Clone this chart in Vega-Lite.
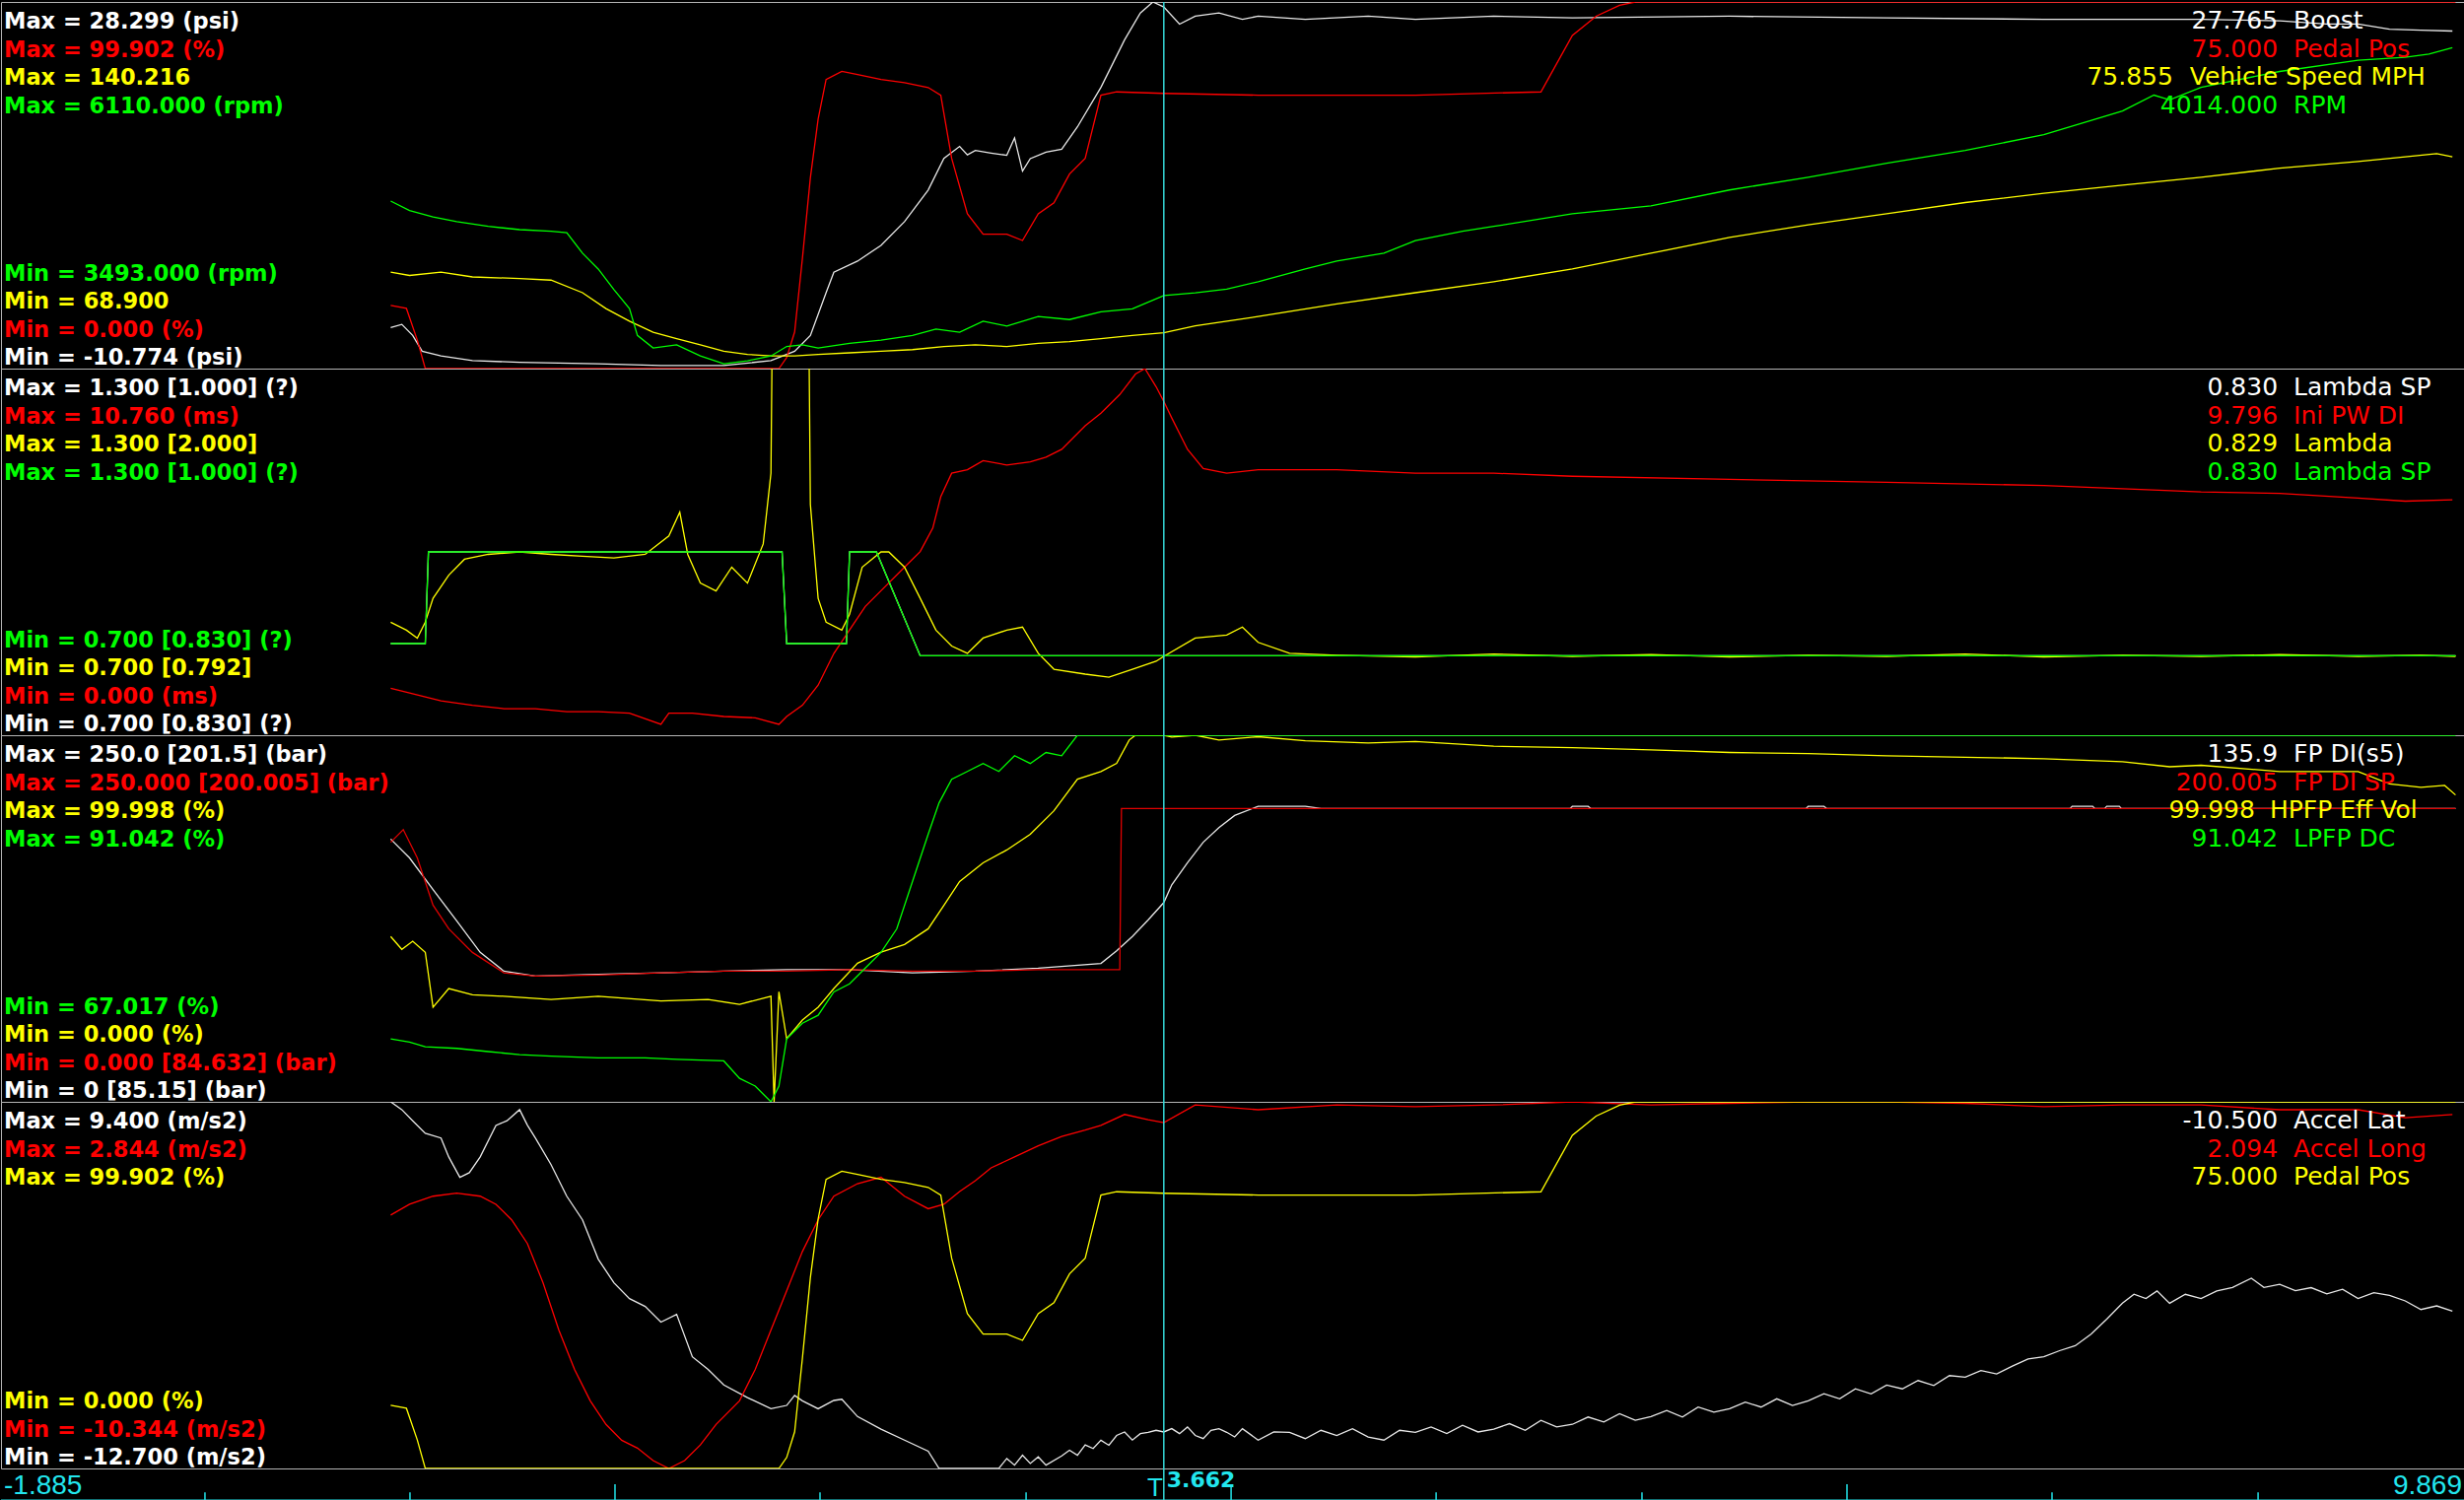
{
"$schema": "https://vega.github.io/schema/vega-lite/v6.json",
"background": "#000000",
"padding": 0,
"spacing": 0,
"bounds": "flush",
"config": {"view": {"stroke": "#b4b4b4", "strokeWidth": 1}, "concat": {"spacing": 0}},
"datasets": {
"cursor": [{"t": 3.662}],
"boost": [{"t":-0.026,"v":-6.39},{"t":0.027,"v":-6.06},{"t":0.079,"v":-7.24},{"t":0.124,"v":-8.92},{"t":0.214,"v":-9.43},{"t":0.364,"v":-9.93},{"t":0.589,"v":-10.1},{"t":0.964,"v":-10.27},{"t":1.263,"v":-10.44},{"t":1.563,"v":-10.44},{"t":1.788,"v":-9.93},{"t":1.901,"v":-8.92},{"t":1.976,"v":-7.24},{"t":2.051,"v":-2.69},{"t":2.088,"v":-0.5},{"t":2.201,"v":0.68},{"t":2.313,"v":2.36},{"t":2.425,"v":4.89},{"t":2.538,"v":8.26},{"t":2.613,"v":11.62},{"t":2.688,"v":12.9},{"t":2.725,"v":12.0},{"t":2.763,"v":12.47},{"t":2.838,"v":12.2},{"t":2.913,"v":11.96},{"t":2.95,"v":13.81},{"t":2.988,"v":10.28},{"t":3.025,"v":11.6},{"t":3.1,"v":12.3},{"t":3.175,"v":12.6},{"t":3.25,"v":14.99},{"t":3.362,"v":19.2},{"t":3.475,"v":24.27},{"t":3.55,"v":27.12},{"t":3.61,"v":28.299},{"t":3.662,"v":27.765},{"t":3.737,"v":25.94},{"t":3.812,"v":26.78},{"t":3.925,"v":27.12},{"t":4.037,"v":26.45},{"t":4.112,"v":26.78},{"t":4.337,"v":26.45},{"t":4.637,"v":26.78},{"t":4.862,"v":26.45},{"t":5.236,"v":26.78},{"t":5.611,"v":26.6},{"t":6.361,"v":26.78},{"t":7.11,"v":26.6},{"t":7.86,"v":26.45},{"t":8.61,"v":26.45},{"t":8.985,"v":26.28},{"t":9.21,"v":25.94},{"t":9.359,"v":25.94},{"t":9.509,"v":25.4},{"t":9.659,"v":25.3},{"t":9.809,"v":25.2}],
"pedal": [{"t":-0.026,"v":17.2},{"t":0.049,"v":16.4},{"t":0.101,"v":7.75},{"t":0.139,"v":0},{"t":1.826,"v":0},{"t":1.863,"v":3},{"t":1.901,"v":10},{"t":1.938,"v":30},{"t":1.976,"v":52},{"t":2.013,"v":68},{"t":2.051,"v":78.8},{"t":2.126,"v":81.0},{"t":2.201,"v":80.1},{"t":2.313,"v":78.8},{"t":2.425,"v":77.9},{"t":2.538,"v":76.6},{"t":2.598,"v":74.5},{"t":2.65,"v":57.3},{"t":2.725,"v":42.2},{"t":2.8,"v":36.6},{"t":2.913,"v":36.6},{"t":2.988,"v":34.9},{"t":3.063,"v":42.2},{"t":3.138,"v":45.2},{"t":3.212,"v":53.0},{"t":3.287,"v":57.3},{"t":3.362,"v":74.5},{"t":3.437,"v":75.4},{"t":3.662,"v":75.0},{"t":4.112,"v":74.5},{"t":4.862,"v":74.5},{"t":5.461,"v":75.4},{"t":5.536,"v":83.1},{"t":5.611,"v":90.8},{"t":5.724,"v":96.0},{"t":5.836,"v":99.0},{"t":5.911,"v":99.902},{"t":9.824,"v":99.902}],
"speed": [{"t":-0.026,"v":87.65},{"t":0.064,"v":87.02},{"t":0.214,"v":87.65},{"t":0.364,"v":86.73},{"t":0.589,"v":86.42},{"t":0.739,"v":86.11},{"t":0.889,"v":83.66},{"t":1.001,"v":80.58},{"t":1.113,"v":78.12},{"t":1.226,"v":75.97},{"t":1.338,"v":74.74},{"t":1.451,"v":73.51},{"t":1.563,"v":72.27},{"t":1.676,"v":71.67},{"t":1.788,"v":71.36},{"t":1.901,"v":71.36},{"t":2.013,"v":71.67},{"t":2.163,"v":71.97},{"t":2.313,"v":72.27},{"t":2.463,"v":72.59},{"t":2.613,"v":73.2},{"t":2.763,"v":73.51},{"t":2.913,"v":73.2},{"t":3.063,"v":73.82},{"t":3.212,"v":74.13},{"t":3.362,"v":74.74},{"t":3.512,"v":75.35},{"t":3.662,"v":75.855},{"t":3.812,"v":77.2},{"t":4.112,"v":79.04},{"t":4.487,"v":81.5},{"t":4.862,"v":83.66},{"t":5.236,"v":85.8},{"t":5.611,"v":88.27},{"t":5.986,"v":91.34},{"t":6.361,"v":94.41},{"t":6.736,"v":96.87},{"t":7.11,"v":99.02},{"t":7.485,"v":101.2},{"t":7.86,"v":103.0},{"t":8.235,"v":104.6},{"t":8.61,"v":106.1},{"t":8.985,"v":107.9},{"t":9.359,"v":109.2},{"t":9.584,"v":110.1},{"t":9.734,"v":110.7},{"t":9.809,"v":110.1}],
"rpm": [{"t":-0.026,"v":4689},{"t":0.064,"v":4621},{"t":0.176,"v":4576},{"t":0.289,"v":4542},{"t":0.439,"v":4508},{"t":0.589,"v":4485},{"t":0.739,"v":4474},{"t":0.814,"v":4463},{"t":0.889,"v":4317},{"t":0.964,"v":4204},{"t":1.039,"v":4057},{"t":1.113,"v":3922},{"t":1.151,"v":3730},{"t":1.226,"v":3640},{"t":1.338,"v":3662},{"t":1.451,"v":3583},{"t":1.563,"v":3527},{"t":1.676,"v":3549},{"t":1.788,"v":3583},{"t":1.863,"v":3651},{"t":1.938,"v":3662},{"t":2.013,"v":3640},{"t":2.163,"v":3674},{"t":2.313,"v":3696},{"t":2.463,"v":3730},{"t":2.575,"v":3775},{"t":2.688,"v":3752},{"t":2.8,"v":3831},{"t":2.913,"v":3797},{"t":3.063,"v":3865},{"t":3.212,"v":3843},{"t":3.362,"v":3899},{"t":3.512,"v":3920},{"t":3.662,"v":4014},{"t":3.812,"v":4034},{"t":3.962,"v":4060},{"t":4.112,"v":4113},{"t":4.337,"v":4204},{"t":4.487,"v":4260},{"t":4.712,"v":4317},{"t":4.862,"v":4407},{"t":5.087,"v":4474},{"t":5.236,"v":4508},{"t":5.611,"v":4598},{"t":5.986,"v":4655},{"t":6.361,"v":4768},{"t":6.736,"v":4859},{"t":7.11,"v":4959},{"t":7.485,"v":5050},{"t":7.86,"v":5163},{"t":8.235,"v":5332},{"t":8.385,"v":5445},{"t":8.46,"v":5411},{"t":8.61,"v":5501},{"t":8.985,"v":5614},{"t":9.359,"v":5694},{"t":9.584,"v":5715},{"t":9.697,"v":5738},{"t":9.809,"v":5783}],
"lsp": [{"t":-0.026,"v":0.85},{"t":0.139,"v":0.85},{"t":0.154,"v":1.0},{"t":1.841,"v":1.0},{"t":1.863,"v":0.85},{"t":2.148,"v":0.85},{"t":2.163,"v":1.0},{"t":2.291,"v":1.0},{"t":2.5,"v":0.83},{"t":9.824,"v":0.83}],
"lambda": [{"t":-0.026,"v":0.885},{"t":0.049,"v":0.872},{"t":0.101,"v":0.859},{"t":0.139,"v":0.885},{"t":0.176,"v":0.924},{"t":0.251,"v":0.962},{"t":0.326,"v":0.988},{"t":0.439,"v":0.996},{"t":0.589,"v":1.0},{"t":0.739,"v":0.996},{"t":0.889,"v":0.993},{"t":1.039,"v":0.99},{"t":1.188,"v":0.996},{"t":1.301,"v":1.026},{"t":1.353,"v":1.065},{"t":1.391,"v":0.996},{"t":1.451,"v":0.949},{"t":1.526,"v":0.936},{"t":1.601,"v":0.975},{"t":1.676,"v":0.949},{"t":1.751,"v":1.013},{"t":1.788,"v":1.129},{"t":1.811,"v":2.0},{"t":1.953,"v":2.0},{"t":1.976,"v":1.078},{"t":2.013,"v":0.924},{"t":2.051,"v":0.885},{"t":2.126,"v":0.872},{"t":2.163,"v":0.898},{"t":2.223,"v":0.975},{"t":2.313,"v":1.0},{"t":2.35,"v":1.0},{"t":2.425,"v":0.975},{"t":2.5,"v":0.924},{"t":2.575,"v":0.872},{"t":2.65,"v":0.846},{"t":2.725,"v":0.834},{"t":2.8,"v":0.859},{"t":2.913,"v":0.872},{"t":2.988,"v":0.877},{"t":3.063,"v":0.834},{"t":3.138,"v":0.808},{"t":3.287,"v":0.8},{"t":3.4,"v":0.795},{"t":3.512,"v":0.808},{"t":3.625,"v":0.821},{"t":3.662,"v":0.829},{"t":3.812,"v":0.859},{"t":3.962,"v":0.864},{"t":4.037,"v":0.877},{"t":4.112,"v":0.852},{"t":4.262,"v":0.834},{"t":4.487,"v":0.831},{"t":4.862,"v":0.828},{"t":5.236,"v":0.833},{"t":5.611,"v":0.829},{"t":5.986,"v":0.832},{"t":6.361,"v":0.828},{"t":6.736,"v":0.831},{"t":7.11,"v":0.829},{"t":7.485,"v":0.833},{"t":7.86,"v":0.828},{"t":8.235,"v":0.831},{"t":8.61,"v":0.829},{"t":8.985,"v":0.832},{"t":9.359,"v":0.829},{"t":9.659,"v":0.831},{"t":9.824,"v":0.829}],
"inipw": [{"t":-0.026,"v":1.38},{"t":0.064,"v":1.24},{"t":0.214,"v":1.01},{"t":0.364,"v":0.88},{"t":0.514,"v":0.78},{"t":0.664,"v":0.78},{"t":0.814,"v":0.69},{"t":0.964,"v":0.69},{"t":1.113,"v":0.645},{"t":1.263,"v":0.32},{"t":1.301,"v":0.645},{"t":1.413,"v":0.645},{"t":1.563,"v":0.55},{"t":1.713,"v":0.51},{"t":1.826,"v":0.32},{"t":1.863,"v":0.55},{"t":1.938,"v":0.88},{"t":2.013,"v":1.47},{"t":2.088,"v":2.4},{"t":2.163,"v":3.09},{"t":2.238,"v":3.78},{"t":2.313,"v":4.24},{"t":2.425,"v":4.93},{"t":2.5,"v":5.39},{"t":2.56,"v":6.08},{"t":2.598,"v":7.0},{"t":2.65,"v":7.69},{"t":2.725,"v":7.79},{"t":2.8,"v":8.06},{"t":2.913,"v":7.93},{"t":3.025,"v":8.02},{"t":3.1,"v":8.16},{"t":3.175,"v":8.39},{"t":3.287,"v":9.08},{"t":3.362,"v":9.45},{"t":3.452,"v":10.0},{"t":3.527,"v":10.6},{"t":3.572,"v":10.76},{"t":3.625,"v":10.23},{"t":3.662,"v":9.796},{"t":3.7,"v":9.31},{"t":3.775,"v":8.39},{"t":3.85,"v":7.83},{"t":3.962,"v":7.69},{"t":4.112,"v":7.79},{"t":4.487,"v":7.79},{"t":4.862,"v":7.69},{"t":5.236,"v":7.69},{"t":5.611,"v":7.6},{"t":6.361,"v":7.51},{"t":7.11,"v":7.42},{"t":7.86,"v":7.33},{"t":8.61,"v":7.14},{"t":8.985,"v":7.1},{"t":9.359,"v":6.96},{"t":9.584,"v":6.87},{"t":9.809,"v":6.91}],
"fpdi": [{"t":-0.026,"v":179.2},{"t":0.064,"v":166.3},{"t":0.176,"v":144.8},{"t":0.289,"v":123.4},{"t":0.401,"v":101.9},{"t":0.514,"v":89.1},{"t":0.664,"v":85.8},{"t":0.964,"v":86.9},{"t":1.263,"v":88.0},{"t":1.563,"v":89.1},{"t":1.863,"v":90.1},{"t":2.163,"v":90.1},{"t":2.463,"v":88.0},{"t":2.763,"v":89.1},{"t":3.063,"v":91.2},{"t":3.362,"v":94.4},{"t":3.437,"v":103},{"t":3.512,"v":112.7},{"t":3.587,"v":124},{"t":3.662,"v":135.9},{"t":3.7,"v":148},{"t":3.775,"v":163},{"t":3.85,"v":177},{"t":3.925,"v":187},{"t":4.0,"v":195.3},{"t":4.112,"v":201.5},{"t":4.337,"v":201.5},{"t":4.412,"v":200.0},{"t":5.6,"v":200.0},{"t":5.611,"v":201.5},{"t":5.686,"v":201.5},{"t":5.7,"v":200.0},{"t":6.725,"v":200.0},{"t":6.736,"v":201.5},{"t":6.811,"v":201.5},{"t":6.825,"v":200.0},{"t":7.985,"v":200.0},{"t":7.995,"v":201.5},{"t":8.093,"v":201.5},{"t":8.103,"v":200.0},{"t":8.15,"v":200.0},{"t":8.16,"v":201.5},{"t":8.22,"v":201.5},{"t":8.23,"v":200.0},{"t":9.824,"v":200.0}],
"fpdisp": [{"t":-0.026,"v":177.0},{"t":0.034,"v":185.6},{"t":0.101,"v":166.3},{"t":0.176,"v":134.1},{"t":0.251,"v":118.0},{"t":0.364,"v":101.9},{"t":0.514,"v":88.0},{"t":0.664,"v":85.8},{"t":0.964,"v":86.5},{"t":1.263,"v":88.0},{"t":1.563,"v":89.1},{"t":1.863,"v":89.1},{"t":2.163,"v":90.1},{"t":2.463,"v":89.1},{"t":2.763,"v":89.1},{"t":3.063,"v":90.1},{"t":3.362,"v":90.1},{"t":3.452,"v":90.1},{"t":3.46,"v":200.005},{"t":9.824,"v":200.005}],
"hpfp": [{"t":-0.026,"v":45.1},{"t":0.027,"v":41.6},{"t":0.079,"v":43.8},{"t":0.139,"v":40.8},{"t":0.176,"v":25.8},{"t":0.251,"v":30.9},{"t":0.364,"v":29.2},{"t":0.514,"v":28.8},{"t":0.739,"v":27.9},{"t":0.964,"v":28.8},{"t":1.263,"v":27.5},{"t":1.488,"v":27.9},{"t":1.638,"v":26.6},{"t":1.788,"v":28.8},{"t":1.803,"v":0},{"t":1.826,"v":30.0},{"t":1.863,"v":17.2},{"t":1.938,"v":22.3},{"t":2.013,"v":25.8},{"t":2.088,"v":30.9},{"t":2.201,"v":37.8},{"t":2.313,"v":40.8},{"t":2.425,"v":42.9},{"t":2.538,"v":47.2},{"t":2.613,"v":53.6},{"t":2.688,"v":60.1},{"t":2.8,"v":65.2},{"t":2.913,"v":68.7},{"t":3.025,"v":73.0},{"t":3.138,"v":79.4},{"t":3.25,"v":88.0},{"t":3.362,"v":90.1},{"t":3.437,"v":92.3},{"t":3.497,"v":98.7},{"t":3.527,"v":99.998},{"t":3.662,"v":99.998},{"t":3.7,"v":99.5},{"t":3.812,"v":99.998},{"t":3.925,"v":98.7},{"t":4.112,"v":99.6},{"t":4.337,"v":98.5},{"t":4.637,"v":97.9},{"t":4.862,"v":98.3},{"t":5.236,"v":97.0},{"t":5.611,"v":96.6},{"t":5.986,"v":96.0},{"t":6.361,"v":95.3},{"t":6.736,"v":95.0},{"t":7.11,"v":94.4},{"t":7.485,"v":94.0},{"t":7.86,"v":93.6},{"t":8.235,"v":92.8},{"t":8.46,"v":91.4},{"t":8.61,"v":91.8},{"t":8.985,"v":90.1},{"t":9.359,"v":90.1},{"t":9.509,"v":86.7},{"t":9.659,"v":85.8},{"t":9.772,"v":86.3},{"t":9.824,"v":83.7}],
"lpfp": [{"t":-0.026,"v":71.14},{"t":0.064,"v":70.93},{"t":0.139,"v":70.62},{"t":0.289,"v":70.52},{"t":0.439,"v":70.31},{"t":0.589,"v":70.11},{"t":0.739,"v":70.01},{"t":0.964,"v":69.9},{"t":1.188,"v":69.9},{"t":1.338,"v":69.8},{"t":1.563,"v":69.7},{"t":1.638,"v":68.56},{"t":1.713,"v":68.05},{"t":1.788,"v":67.017},{"t":1.826,"v":68.05},{"t":1.863,"v":71.14},{"t":1.938,"v":72.17},{"t":2.013,"v":72.69},{"t":2.088,"v":74.22},{"t":2.163,"v":74.75},{"t":2.238,"v":75.78},{"t":2.313,"v":76.81},{"t":2.388,"v":78.35},{"t":2.463,"v":81.45},{"t":2.538,"v":84.55},{"t":2.59,"v":86.61},{"t":2.65,"v":88.16},{"t":2.725,"v":88.67},{"t":2.8,"v":89.19},{"t":2.875,"v":88.67},{"t":2.95,"v":89.7},{"t":3.025,"v":89.19},{"t":3.1,"v":89.91},{"t":3.175,"v":89.7},{"t":3.25,"v":91.042},{"t":9.824,"v":91.042}],
"alat": [{"t":-0.026,"v":9.4},{"t":0.027,"v":8.93},{"t":0.079,"v":8.26},{"t":0.139,"v":7.5},{"t":0.214,"v":7.22},{"t":0.251,"v":6.08},{"t":0.304,"v":4.85},{"t":0.349,"v":5.13},{"t":0.401,"v":6.08},{"t":0.476,"v":7.98},{"t":0.529,"v":8.26},{"t":0.589,"v":8.93},{"t":0.626,"v":8.0},{"t":0.664,"v":7.22},{"t":0.739,"v":5.61},{"t":0.814,"v":3.71},{"t":0.889,"v":2.29},{"t":0.964,"v":-0.08},{"t":1.039,"v":-1.51},{"t":1.113,"v":-2.46},{"t":1.188,"v":-2.93},{"t":1.263,"v":-3.88},{"t":1.338,"v":-3.41},{"t":1.413,"v":-5.97},{"t":1.488,"v":-6.73},{"t":1.563,"v":-7.67},{"t":1.676,"v":-8.43},{"t":1.788,"v":-9.1},{"t":1.863,"v":-8.9},{"t":1.901,"v":-8.3},{"t":1.938,"v":-8.62},{"t":2.013,"v":-9.1},{"t":2.088,"v":-8.6},{"t":2.126,"v":-8.53},{"t":2.201,"v":-9.57},{"t":2.313,"v":-10.33},{"t":2.425,"v":-10.99},{"t":2.538,"v":-11.66},{"t":2.59,"v":-12.7},{"t":2.875,"v":-12.7},{"t":2.913,"v":-12.1},{"t":2.95,"v":-12.5},{"t":2.988,"v":-11.9},{"t":3.025,"v":-12.4},{"t":3.063,"v":-12.0},{"t":3.1,"v":-12.5},{"t":3.175,"v":-11.94},{"t":3.212,"v":-11.6},{"t":3.25,"v":-11.9},{"t":3.287,"v":-11.28},{"t":3.325,"v":-11.5},{"t":3.362,"v":-11.0},{"t":3.4,"v":-11.3},{"t":3.437,"v":-10.71},{"t":3.475,"v":-10.5},{"t":3.512,"v":-10.99},{"t":3.55,"v":-10.6},{"t":3.587,"v":-10.52},{"t":3.625,"v":-10.4},{"t":3.662,"v":-10.5},{"t":3.7,"v":-10.3},{"t":3.737,"v":-10.6},{"t":3.775,"v":-10.2},{"t":3.812,"v":-10.71},{"t":3.85,"v":-10.9},{"t":3.887,"v":-10.4},{"t":3.925,"v":-10.3},{"t":3.962,"v":-10.52},{"t":4.0,"v":-10.8},{"t":4.037,"v":-10.3},{"t":4.112,"v":-10.99},{"t":4.187,"v":-10.5},{"t":4.262,"v":-10.52},{"t":4.337,"v":-10.9},{"t":4.412,"v":-10.4},{"t":4.487,"v":-10.71},{"t":4.562,"v":-10.3},{"t":4.637,"v":-10.8},{"t":4.712,"v":-10.99},{"t":4.787,"v":-10.4},{"t":4.862,"v":-10.52},{"t":4.937,"v":-10.2},{"t":5.012,"v":-10.6},{"t":5.087,"v":-10.1},{"t":5.161,"v":-10.5},{"t":5.236,"v":-10.33},{"t":5.311,"v":-10.0},{"t":5.386,"v":-10.4},{"t":5.461,"v":-9.8},{"t":5.536,"v":-10.2},{"t":5.611,"v":-10.04},{"t":5.686,"v":-9.6},{"t":5.761,"v":-9.9},{"t":5.836,"v":-9.4},{"t":5.911,"v":-9.8},{"t":5.986,"v":-9.57},{"t":6.061,"v":-9.2},{"t":6.136,"v":-9.6},{"t":6.211,"v":-9.0},{"t":6.286,"v":-9.3},{"t":6.361,"v":-9.1},{"t":6.436,"v":-8.7},{"t":6.511,"v":-9.0},{"t":6.586,"v":-8.5},{"t":6.661,"v":-8.9},{"t":6.736,"v":-8.62},{"t":6.811,"v":-8.2},{"t":6.886,"v":-8.5},{"t":6.961,"v":-7.9},{"t":7.036,"v":-8.2},{"t":7.11,"v":-7.67},{"t":7.185,"v":-7.9},{"t":7.26,"v":-7.4},{"t":7.335,"v":-7.7},{"t":7.41,"v":-7.1},{"t":7.485,"v":-7.2},{"t":7.56,"v":-6.8},{"t":7.635,"v":-7.0},{"t":7.71,"v":-6.53},{"t":7.785,"v":-6.1},{"t":7.86,"v":-5.97},{"t":7.935,"v":-5.6},{"t":8.01,"v":-5.3},{"t":8.085,"v":-4.6},{"t":8.16,"v":-3.7},{"t":8.235,"v":-2.74},{"t":8.29,"v":-2.2},{"t":8.347,"v":-2.46},{"t":8.4,"v":-2.0},{"t":8.46,"v":-2.74},{"t":8.535,"v":-2.2},{"t":8.61,"v":-2.46},{"t":8.685,"v":-2.0},{"t":8.76,"v":-1.79},{"t":8.85,"v":-1.23},{"t":8.91,"v":-1.79},{"t":8.985,"v":-1.6},{"t":9.06,"v":-1.98},{"t":9.135,"v":-1.8},{"t":9.21,"v":-2.17},{"t":9.285,"v":-1.9},{"t":9.359,"v":-2.46},{"t":9.434,"v":-2.1},{"t":9.509,"v":-2.27},{"t":9.584,"v":-2.6},{"t":9.659,"v":-3.12},{"t":9.734,"v":-2.9},{"t":9.809,"v":-3.21}],
"along": [{"t":-0.026,"v":-1.23},{"t":0.064,"v":-0.84},{"t":0.176,"v":-0.55},{"t":0.289,"v":-0.44},{"t":0.401,"v":-0.55},{"t":0.476,"v":-0.84},{"t":0.551,"v":-1.4},{"t":0.626,"v":-2.25},{"t":0.701,"v":-3.67},{"t":0.776,"v":-5.36},{"t":0.851,"v":-6.78},{"t":0.926,"v":-7.91},{"t":1.001,"v":-8.76},{"t":1.076,"v":-9.33},{"t":1.151,"v":-9.61},{"t":1.226,"v":-10.06},{"t":1.301,"v":-10.344},{"t":1.376,"v":-10.06},{"t":1.451,"v":-9.5},{"t":1.526,"v":-8.76},{"t":1.638,"v":-7.91},{"t":1.713,"v":-6.78},{"t":1.788,"v":-5.36},{"t":1.863,"v":-3.95},{"t":1.938,"v":-2.54},{"t":2.013,"v":-1.4},{"t":2.088,"v":-0.55},{"t":2.201,"v":-0.1},{"t":2.313,"v":0.13},{"t":2.425,"v":-0.55},{"t":2.538,"v":-1.0},{"t":2.613,"v":-0.84},{"t":2.688,"v":-0.38},{"t":2.763,"v":0.01},{"t":2.838,"v":0.47},{"t":2.95,"v":0.86},{"t":3.063,"v":1.26},{"t":3.175,"v":1.6},{"t":3.287,"v":1.83},{"t":3.362,"v":2.0},{"t":3.475,"v":2.39},{"t":3.587,"v":2.2},{"t":3.662,"v":2.094},{"t":3.812,"v":2.73},{"t":4.112,"v":2.56},{"t":4.487,"v":2.73},{"t":4.862,"v":2.67},{"t":5.236,"v":2.73},{"t":5.611,"v":2.844},{"t":5.986,"v":2.73},{"t":6.361,"v":2.79},{"t":6.736,"v":2.844},{"t":7.11,"v":2.844},{"t":7.485,"v":2.79},{"t":7.86,"v":2.67},{"t":8.235,"v":2.73},{"t":8.61,"v":2.73},{"t":8.985,"v":2.56},{"t":9.359,"v":2.56},{"t":9.584,"v":2.27},{"t":9.809,"v":2.39}],
"labels": [
{"panel":1,"trace":1,"row":1,"text":"Max = 28.299 (psi)"},{"panel":1,"trace":2,"row":2,"text":"Max = 99.902 (%)"},{"panel":1,"trace":3,"row":3,"text":"Max = 140.216"},{"panel":1,"trace":4,"row":4,"text":"Max = 6110.000 (rpm)"},{"panel":1,"trace":4,"row":10,"text":"Min = 3493.000 (rpm)"},{"panel":1,"trace":3,"row":11,"text":"Min = 68.900"},{"panel":1,"trace":2,"row":12,"text":"Min = 0.000 (%)"},{"panel":1,"trace":1,"row":13,"text":"Min = -10.774 (psi)"},
{"panel":2,"trace":1,"row":1,"text":"Max = 1.300 [1.000] (?)"},{"panel":2,"trace":2,"row":2,"text":"Max = 10.760 (ms)"},{"panel":2,"trace":3,"row":3,"text":"Max = 1.300 [2.000]"},{"panel":2,"trace":4,"row":4,"text":"Max = 1.300 [1.000] (?)"},{"panel":2,"trace":4,"row":10,"text":"Min = 0.700 [0.830] (?)"},{"panel":2,"trace":3,"row":11,"text":"Min = 0.700 [0.792]"},{"panel":2,"trace":2,"row":12,"text":"Min = 0.000 (ms)"},{"panel":2,"trace":1,"row":13,"text":"Min = 0.700 [0.830] (?)"},
{"panel":3,"trace":1,"row":1,"text":"Max = 250.0 [201.5] (bar)"},{"panel":3,"trace":2,"row":2,"text":"Max = 250.000 [200.005] (bar)"},{"panel":3,"trace":3,"row":3,"text":"Max = 99.998 (%)"},{"panel":3,"trace":4,"row":4,"text":"Max = 91.042 (%)"},{"panel":3,"trace":4,"row":10,"text":"Min = 67.017 (%)"},{"panel":3,"trace":3,"row":11,"text":"Min = 0.000 (%)"},{"panel":3,"trace":2,"row":12,"text":"Min = 0.000 [84.632] (bar)"},{"panel":3,"trace":1,"row":13,"text":"Min = 0 [85.15] (bar)"},
{"panel":4,"trace":1,"row":1,"text":"Max = 9.400 (m/s2)"},{"panel":4,"trace":2,"row":2,"text":"Max = 2.844 (m/s2)"},{"panel":4,"trace":3,"row":3,"text":"Max = 99.902 (%)"},{"panel":4,"trace":3,"row":11,"text":"Min = 0.000 (%)"},{"panel":4,"trace":2,"row":12,"text":"Min = -10.344 (m/s2)"},{"panel":4,"trace":1,"row":13,"text":"Min = -12.700 (m/s2)"}],
"names": [
{"panel":1,"trace":1,"row":1,"val":"27.765","name":"Boost"},{"panel":1,"trace":2,"row":2,"val":"75.000","name":"Pedal Pos"},{"panel":1,"trace":3,"row":3,"val":"75.855","name":"Vehicle Speed MPH"},{"panel":1,"trace":4,"row":4,"val":"4014.000","name":"RPM"},
{"panel":2,"trace":1,"row":1,"val":"0.830","name":"Lambda SP"},{"panel":2,"trace":2,"row":2,"val":"9.796","name":"Ini PW DI"},{"panel":2,"trace":3,"row":3,"val":"0.829","name":"Lambda"},{"panel":2,"trace":4,"row":4,"val":"0.830","name":"Lambda SP"},
{"panel":3,"trace":1,"row":1,"val":"135.9","name":"FP DI(s5)"},{"panel":3,"trace":2,"row":2,"val":"200.005","name":"FP DI SP"},{"panel":3,"trace":3,"row":3,"val":"99.998","name":"HPFP Eff Vol"},{"panel":3,"trace":4,"row":4,"val":"91.042","name":"LPFP DC"},
{"panel":4,"trace":1,"row":1,"val":"-10.500","name":"Accel Lat"},{"panel":4,"trace":2,"row":2,"val":"2.094","name":"Accel Long"},{"panel":4,"trace":3,"row":3,"val":"75.000","name":"Pedal Pos"}],
"ticks": [{"t":-0.912,"major":0},{"t":0.066,"major":0},{"t":1.044,"major":1},{"t":2.022,"major":0},{"t":3.005,"major":0},{"t":3.983,"major":1},{"t":4.961,"major":0},{"t":5.943,"major":0},{"t":6.921,"major":1},{"t":7.899,"major":0},{"t":8.882,"major":0}]
},
"vconcat": [
{
"width": 2500, "height": 372,
"layer": [
{"data": {"name": "boost"}, "mark": {"type": "line", "color": "#e8e8e8", "strokeWidth": 1.3, "clip": true}, "encoding": {"x": {"field": "t", "type": "quantitative", "scale": {"domain": [-1.885, 9.869], "nice": false, "zero": false}, "axis": null}, "y": {"field": "v", "type": "quantitative", "scale": {"domain": [-10.774, 28.299], "nice": false, "zero": false}, "axis": null}}},
{"data": {"name": "pedal"}, "mark": {"type": "line", "color": "#ff0000", "strokeWidth": 1.3, "clip": true}, "encoding": {"x": {"field": "t", "type": "quantitative", "scale": {"domain": [-1.885, 9.869], "nice": false, "zero": false}, "axis": null}, "y": {"field": "v", "type": "quantitative", "scale": {"domain": [0, 99.902], "nice": false, "zero": false}, "axis": null}}},
{"data": {"name": "speed"}, "mark": {"type": "line", "color": "#ffff00", "strokeWidth": 1.3, "clip": true}, "encoding": {"x": {"field": "t", "type": "quantitative", "scale": {"domain": [-1.885, 9.869], "nice": false, "zero": false}, "axis": null}, "y": {"field": "v", "type": "quantitative", "scale": {"domain": [68.9, 140.216], "nice": false, "zero": false}, "axis": null}}},
{"data": {"name": "rpm"}, "mark": {"type": "line", "color": "#00ff00", "strokeWidth": 1.3, "clip": true}, "encoding": {"x": {"field": "t", "type": "quantitative", "scale": {"domain": [-1.885, 9.869], "nice": false, "zero": false}, "axis": null}, "y": {"field": "v", "type": "quantitative", "scale": {"domain": [3493, 6110], "nice": false, "zero": false}, "axis": null}}},
{"data": {"name": "cursor"}, "mark": {"type": "rule", "color": "#35d6d6", "strokeWidth": 1.5}, "encoding": {"x": {"field": "t", "type": "quantitative", "scale": {"domain": [-1.885, 9.869], "nice": false, "zero": false}, "axis": null}}},
{"data": {"name": "labels"}, "transform": [{"filter": "datum.panel == 1"}], "mark": {"type": "text", "align": "left", "baseline": "alphabetic", "dx": 3, "font": "DejaVu Sans", "fontWeight": "bold", "fontSize": 22.5}, "encoding": {"x": {"datum": -1.885, "type": "quantitative"}, "y": {"field": "row", "type": "quantitative", "scale": {"domain": [0.035, 13.13], "reverse": true, "nice": false, "zero": false}, "axis": null}, "text": {"field": "text", "type": "nominal"}, "color": {"condition": [{"test": "datum.trace == 2", "value": "#ff0000"}, {"test": "datum.trace == 3", "value": "#ffff00"}, {"test": "datum.trace == 4", "value": "#00ff00"}], "value": "#ffffff"}}},
{"data": {"name": "names"}, "transform": [{"filter": "datum.panel == 1 && datum.row != 3"}], "mark": {"type": "text", "align": "right", "baseline": "alphabetic", "font": "DejaVu Sans", "fontSize": 25}, "encoding": {"x": {"datum": 8.976, "type": "quantitative"}, "y": {"field": "row", "type": "quantitative", "scale": {"domain": [0.035, 13.13], "reverse": true, "nice": false, "zero": false}, "axis": null}, "text": {"field": "val", "type": "nominal"}, "color": {"condition": [{"test": "datum.trace == 2", "value": "#ff0000"}, {"test": "datum.trace == 3", "value": "#ffff00"}, {"test": "datum.trace == 4", "value": "#00ff00"}], "value": "#ffffff"}}},
{"data": {"name": "names"}, "transform": [{"filter": "datum.panel == 1 && datum.row != 3"}], "mark": {"type": "text", "align": "left", "baseline": "alphabetic", "font": "DejaVu Sans", "fontSize": 25}, "encoding": {"x": {"datum": 9.051, "type": "quantitative"}, "y": {"field": "row", "type": "quantitative", "scale": {"domain": [0.035, 13.13], "reverse": true, "nice": false, "zero": false}, "axis": null}, "text": {"field": "name", "type": "nominal"}, "color": {"condition": [{"test": "datum.trace == 2", "value": "#ff0000"}, {"test": "datum.trace == 3", "value": "#ffff00"}, {"test": "datum.trace == 4", "value": "#00ff00"}], "value": "#ffffff"}}},
{"data": {"name": "names"}, "transform": [{"filter": "datum.panel == 1 && datum.row == 3"}], "mark": {"type": "text", "align": "right", "baseline": "alphabetic", "font": "DejaVu Sans", "fontSize": 25}, "encoding": {"x": {"datum": 8.477, "type": "quantitative"}, "y": {"field": "row", "type": "quantitative", "scale": {"domain": [0.035, 13.13], "reverse": true, "nice": false, "zero": false}, "axis": null}, "text": {"field": "val", "type": "nominal"}, "color": {"value": "#ffff00"}}},
{"data": {"name": "names"}, "transform": [{"filter": "datum.panel == 1 && datum.row == 3"}], "mark": {"type": "text", "align": "left", "baseline": "alphabetic", "font": "DejaVu Sans", "fontSize": 25}, "encoding": {"x": {"datum": 8.556, "type": "quantitative"}, "y": {"field": "row", "type": "quantitative", "scale": {"domain": [0.035, 13.13], "reverse": true, "nice": false, "zero": false}, "axis": null}, "text": {"field": "name", "type": "nominal"}, "color": {"value": "#ffff00"}}}
],
"resolve": {"scale": {"y": "independent"}}
},
{
"width": 2500, "height": 372,
"layer": [
{"data": {"name": "lsp"}, "mark": {"type": "line", "color": "#e8e8e8", "strokeWidth": 1.3, "clip": true}, "encoding": {"x": {"field": "t", "type": "quantitative", "scale": {"domain": [-1.885, 9.869], "nice": false, "zero": false}, "axis": null}, "y": {"field": "v", "type": "quantitative", "scale": {"domain": [0.7, 1.3], "nice": false, "zero": false}, "axis": null}}},
{"data": {"name": "inipw"}, "mark": {"type": "line", "color": "#ff0000", "strokeWidth": 1.3, "clip": true}, "encoding": {"x": {"field": "t", "type": "quantitative", "scale": {"domain": [-1.885, 9.869], "nice": false, "zero": false}, "axis": null}, "y": {"field": "v", "type": "quantitative", "scale": {"domain": [0, 10.76], "nice": false, "zero": false}, "axis": null}}},
{"data": {"name": "lambda"}, "mark": {"type": "line", "color": "#ffff00", "strokeWidth": 1.3, "clip": true}, "encoding": {"x": {"field": "t", "type": "quantitative", "scale": {"domain": [-1.885, 9.869], "nice": false, "zero": false}, "axis": null}, "y": {"field": "v", "type": "quantitative", "scale": {"domain": [0.7, 1.3], "nice": false, "zero": false}, "axis": null}}},
{"data": {"name": "lsp"}, "mark": {"type": "line", "color": "#00ff00", "strokeWidth": 1.3, "clip": true}, "encoding": {"x": {"field": "t", "type": "quantitative", "scale": {"domain": [-1.885, 9.869], "nice": false, "zero": false}, "axis": null}, "y": {"field": "v", "type": "quantitative", "scale": {"domain": [0.7, 1.3], "nice": false, "zero": false}, "axis": null}}},
{"data": {"name": "cursor"}, "mark": {"type": "rule", "color": "#35d6d6", "strokeWidth": 1.5}, "encoding": {"x": {"field": "t", "type": "quantitative", "scale": {"domain": [-1.885, 9.869], "nice": false, "zero": false}, "axis": null}}},
{"data": {"name": "labels"}, "transform": [{"filter": "datum.panel == 2"}], "mark": {"type": "text", "align": "left", "baseline": "alphabetic", "dx": 3, "font": "DejaVu Sans", "fontWeight": "bold", "fontSize": 22.5}, "encoding": {"x": {"datum": -1.885, "type": "quantitative"}, "y": {"field": "row", "type": "quantitative", "scale": {"domain": [0.035, 13.13], "reverse": true, "nice": false, "zero": false}, "axis": null}, "text": {"field": "text", "type": "nominal"}, "color": {"condition": [{"test": "datum.trace == 2", "value": "#ff0000"}, {"test": "datum.trace == 3", "value": "#ffff00"}, {"test": "datum.trace == 4", "value": "#00ff00"}], "value": "#ffffff"}}},
{"data": {"name": "names"}, "transform": [{"filter": "datum.panel == 2"}], "mark": {"type": "text", "align": "right", "baseline": "alphabetic", "font": "DejaVu Sans", "fontSize": 25}, "encoding": {"x": {"datum": 8.976, "type": "quantitative"}, "y": {"field": "row", "type": "quantitative", "scale": {"domain": [0.035, 13.13], "reverse": true, "nice": false, "zero": false}, "axis": null}, "text": {"field": "val", "type": "nominal"}, "color": {"condition": [{"test": "datum.trace == 2", "value": "#ff0000"}, {"test": "datum.trace == 3", "value": "#ffff00"}, {"test": "datum.trace == 4", "value": "#00ff00"}], "value": "#ffffff"}}},
{"data": {"name": "names"}, "transform": [{"filter": "datum.panel == 2"}], "mark": {"type": "text", "align": "left", "baseline": "alphabetic", "font": "DejaVu Sans", "fontSize": 25}, "encoding": {"x": {"datum": 9.051, "type": "quantitative"}, "y": {"field": "row", "type": "quantitative", "scale": {"domain": [0.035, 13.13], "reverse": true, "nice": false, "zero": false}, "axis": null}, "text": {"field": "name", "type": "nominal"}, "color": {"condition": [{"test": "datum.trace == 2", "value": "#ff0000"}, {"test": "datum.trace == 3", "value": "#ffff00"}, {"test": "datum.trace == 4", "value": "#00ff00"}], "value": "#ffffff"}}}
],
"resolve": {"scale": {"y": "independent"}}
},
{
"width": 2500, "height": 372,
"layer": [
{"data": {"name": "fpdi"}, "mark": {"type": "line", "color": "#e8e8e8", "strokeWidth": 1.3, "clip": true}, "encoding": {"x": {"field": "t", "type": "quantitative", "scale": {"domain": [-1.885, 9.869], "nice": false, "zero": false}, "axis": null}, "y": {"field": "v", "type": "quantitative", "scale": {"domain": [0, 250], "nice": false, "zero": false}, "axis": null}}},
{"data": {"name": "fpdisp"}, "mark": {"type": "line", "color": "#e00000", "strokeWidth": 1.3, "clip": true}, "encoding": {"x": {"field": "t", "type": "quantitative", "scale": {"domain": [-1.885, 9.869], "nice": false, "zero": false}, "axis": null}, "y": {"field": "v", "type": "quantitative", "scale": {"domain": [0, 250], "nice": false, "zero": false}, "axis": null}}},
{"data": {"name": "hpfp"}, "mark": {"type": "line", "color": "#ffff00", "strokeWidth": 1.3, "clip": true}, "encoding": {"x": {"field": "t", "type": "quantitative", "scale": {"domain": [-1.885, 9.869], "nice": false, "zero": false}, "axis": null}, "y": {"field": "v", "type": "quantitative", "scale": {"domain": [0, 99.998], "nice": false, "zero": false}, "axis": null}}},
{"data": {"name": "lpfp"}, "mark": {"type": "line", "color": "#00ff00", "strokeWidth": 1.3, "clip": true}, "encoding": {"x": {"field": "t", "type": "quantitative", "scale": {"domain": [-1.885, 9.869], "nice": false, "zero": false}, "axis": null}, "y": {"field": "v", "type": "quantitative", "scale": {"domain": [67.017, 91.042], "nice": false, "zero": false}, "axis": null}}},
{"data": {"name": "cursor"}, "mark": {"type": "rule", "color": "#35d6d6", "strokeWidth": 1.5}, "encoding": {"x": {"field": "t", "type": "quantitative", "scale": {"domain": [-1.885, 9.869], "nice": false, "zero": false}, "axis": null}}},
{"data": {"name": "labels"}, "transform": [{"filter": "datum.panel == 3"}], "mark": {"type": "text", "align": "left", "baseline": "alphabetic", "dx": 3, "font": "DejaVu Sans", "fontWeight": "bold", "fontSize": 22.5}, "encoding": {"x": {"datum": -1.885, "type": "quantitative"}, "y": {"field": "row", "type": "quantitative", "scale": {"domain": [0.035, 13.13], "reverse": true, "nice": false, "zero": false}, "axis": null}, "text": {"field": "text", "type": "nominal"}, "color": {"condition": [{"test": "datum.trace == 2", "value": "#ff0000"}, {"test": "datum.trace == 3", "value": "#ffff00"}, {"test": "datum.trace == 4", "value": "#00ff00"}], "value": "#ffffff"}}},
{"data": {"name": "names"}, "transform": [{"filter": "datum.panel == 3 && datum.row != 3"}], "mark": {"type": "text", "align": "right", "baseline": "alphabetic", "font": "DejaVu Sans", "fontSize": 25}, "encoding": {"x": {"datum": 8.976, "type": "quantitative"}, "y": {"field": "row", "type": "quantitative", "scale": {"domain": [0.035, 13.13], "reverse": true, "nice": false, "zero": false}, "axis": null}, "text": {"field": "val", "type": "nominal"}, "color": {"condition": [{"test": "datum.trace == 2", "value": "#ff0000"}, {"test": "datum.trace == 3", "value": "#ffff00"}, {"test": "datum.trace == 4", "value": "#00ff00"}], "value": "#ffffff"}}},
{"data": {"name": "names"}, "transform": [{"filter": "datum.panel == 3 && datum.row != 3"}], "mark": {"type": "text", "align": "left", "baseline": "alphabetic", "font": "DejaVu Sans", "fontSize": 25}, "encoding": {"x": {"datum": 9.051, "type": "quantitative"}, "y": {"field": "row", "type": "quantitative", "scale": {"domain": [0.035, 13.13], "reverse": true, "nice": false, "zero": false}, "axis": null}, "text": {"field": "name", "type": "nominal"}, "color": {"condition": [{"test": "datum.trace == 2", "value": "#ff0000"}, {"test": "datum.trace == 3", "value": "#ffff00"}, {"test": "datum.trace == 4", "value": "#00ff00"}], "value": "#ffffff"}}},
{"data": {"name": "names"}, "transform": [{"filter": "datum.panel == 3 && datum.row == 3"}], "mark": {"type": "text", "align": "right", "baseline": "alphabetic", "font": "DejaVu Sans", "fontSize": 25}, "encoding": {"x": {"datum": 8.867, "type": "quantitative"}, "y": {"field": "row", "type": "quantitative", "scale": {"domain": [0.035, 13.13], "reverse": true, "nice": false, "zero": false}, "axis": null}, "text": {"field": "val", "type": "nominal"}, "color": {"value": "#ffff00"}}},
{"data": {"name": "names"}, "transform": [{"filter": "datum.panel == 3 && datum.row == 3"}], "mark": {"type": "text", "align": "left", "baseline": "alphabetic", "font": "DejaVu Sans", "fontSize": 25}, "encoding": {"x": {"datum": 8.938, "type": "quantitative"}, "y": {"field": "row", "type": "quantitative", "scale": {"domain": [0.035, 13.13], "reverse": true, "nice": false, "zero": false}, "axis": null}, "text": {"field": "name", "type": "nominal"}, "color": {"value": "#ffff00"}}}
],
"resolve": {"scale": {"y": "independent"}}
},
{
"width": 2500, "height": 372,
"layer": [
{"data": {"name": "alat"}, "mark": {"type": "line", "color": "#e8e8e8", "strokeWidth": 1.3, "clip": true}, "encoding": {"x": {"field": "t", "type": "quantitative", "scale": {"domain": [-1.885, 9.869], "nice": false, "zero": false}, "axis": null}, "y": {"field": "v", "type": "quantitative", "scale": {"domain": [-12.7, 9.4], "nice": false, "zero": false}, "axis": null}}},
{"data": {"name": "along"}, "mark": {"type": "line", "color": "#ff0000", "strokeWidth": 1.3, "clip": true}, "encoding": {"x": {"field": "t", "type": "quantitative", "scale": {"domain": [-1.885, 9.869], "nice": false, "zero": false}, "axis": null}, "y": {"field": "v", "type": "quantitative", "scale": {"domain": [-10.344, 2.844], "nice": false, "zero": false}, "axis": null}}},
{"data": {"name": "pedal"}, "mark": {"type": "line", "color": "#ffff00", "strokeWidth": 1.3, "clip": true}, "encoding": {"x": {"field": "t", "type": "quantitative", "scale": {"domain": [-1.885, 9.869], "nice": false, "zero": false}, "axis": null}, "y": {"field": "v", "type": "quantitative", "scale": {"domain": [0, 99.902], "nice": false, "zero": false}, "axis": null}}},
{"data": {"name": "cursor"}, "mark": {"type": "rule", "color": "#35d6d6", "strokeWidth": 1.5}, "encoding": {"x": {"field": "t", "type": "quantitative", "scale": {"domain": [-1.885, 9.869], "nice": false, "zero": false}, "axis": null}}},
{"data": {"name": "labels"}, "transform": [{"filter": "datum.panel == 4"}], "mark": {"type": "text", "align": "left", "baseline": "alphabetic", "dx": 3, "font": "DejaVu Sans", "fontWeight": "bold", "fontSize": 22.5}, "encoding": {"x": {"datum": -1.885, "type": "quantitative"}, "y": {"field": "row", "type": "quantitative", "scale": {"domain": [0.035, 13.13], "reverse": true, "nice": false, "zero": false}, "axis": null}, "text": {"field": "text", "type": "nominal"}, "color": {"condition": [{"test": "datum.trace == 2", "value": "#ff0000"}, {"test": "datum.trace == 3", "value": "#ffff00"}, {"test": "datum.trace == 4", "value": "#00ff00"}], "value": "#ffffff"}}},
{"data": {"name": "names"}, "transform": [{"filter": "datum.panel == 4"}], "mark": {"type": "text", "align": "right", "baseline": "alphabetic", "font": "DejaVu Sans", "fontSize": 25}, "encoding": {"x": {"datum": 8.976, "type": "quantitative"}, "y": {"field": "row", "type": "quantitative", "scale": {"domain": [0.035, 13.13], "reverse": true, "nice": false, "zero": false}, "axis": null}, "text": {"field": "val", "type": "nominal"}, "color": {"condition": [{"test": "datum.trace == 2", "value": "#ff0000"}, {"test": "datum.trace == 3", "value": "#ffff00"}, {"test": "datum.trace == 4", "value": "#00ff00"}], "value": "#ffffff"}}},
{"data": {"name": "names"}, "transform": [{"filter": "datum.panel == 4"}], "mark": {"type": "text", "align": "left", "baseline": "alphabetic", "font": "DejaVu Sans", "fontSize": 25}, "encoding": {"x": {"datum": 9.051, "type": "quantitative"}, "y": {"field": "row", "type": "quantitative", "scale": {"domain": [0.035, 13.13], "reverse": true, "nice": false, "zero": false}, "axis": null}, "text": {"field": "name", "type": "nominal"}, "color": {"condition": [{"test": "datum.trace == 2", "value": "#ff0000"}, {"test": "datum.trace == 3", "value": "#ffff00"}, {"test": "datum.trace == 4", "value": "#00ff00"}], "value": "#ffffff"}}}
],
"resolve": {"scale": {"y": "independent"}}
},
{
"width": 2500, "height": 34,
"view": {"stroke": null},
"layer": [
{"data": {"name": "ticks"}, "transform": [{"filter": "datum.major == 0"}], "mark": {"type": "rule", "color": "#22e2e8", "strokeWidth": 1.5}, "encoding": {"x": {"field": "t", "type": "quantitative", "scale": {"domain": [-1.885, 9.869], "nice": false, "zero": false}, "axis": null}, "y": {"datum": 0, "type": "quantitative", "scale": {"domain": [0, 1], "nice": false, "zero": false}, "axis": null}, "y2": {"datum": 0.29}}},
{"data": {"name": "ticks"}, "transform": [{"filter": "datum.major == 1"}], "mark": {"type": "rule", "color": "#22e2e8", "strokeWidth": 1.5}, "encoding": {"x": {"field": "t", "type": "quantitative", "scale": {"domain": [-1.885, 9.869], "nice": false, "zero": false}, "axis": null}, "y": {"datum": 0, "type": "quantitative"}, "y2": {"datum": 0.53}}},
{"data": {"values": [{}]}, "mark": {"type": "rule", "color": "#22e2e8", "strokeWidth": 2}, "encoding": {"y": {"datum": 0.044, "type": "quantitative"}}},
{"data": {"name": "cursor"}, "mark": {"type": "rule", "color": "#35d6d6", "strokeWidth": 1.5}, "encoding": {"x": {"field": "t", "type": "quantitative", "scale": {"domain": [-1.885, 9.869], "nice": false, "zero": false}, "axis": null}}},
{"data": {"values": [{"t": -1.885, "label": "-1.885"}]}, "mark": {"type": "text", "align": "left", "baseline": "alphabetic", "dx": 3, "font": "Liberation Sans", "fontSize": 28, "color": "#22e6ee"}, "encoding": {"x": {"field": "t", "type": "quantitative", "scale": {"domain": [-1.885, 9.869], "nice": false, "zero": false}, "axis": null}, "y": {"datum": 0.235, "type": "quantitative"}, "text": {"field": "label", "type": "nominal"}}},
{"data": {"values": [{"t": 9.869, "label": "9.869"}]}, "mark": {"type": "text", "align": "right", "baseline": "alphabetic", "dx": -3, "font": "Liberation Sans", "fontSize": 28, "color": "#22e6ee"}, "encoding": {"x": {"field": "t", "type": "quantitative", "scale": {"domain": [-1.885, 9.869], "nice": false, "zero": false}, "axis": null}, "y": {"datum": 0.235, "type": "quantitative"}, "text": {"field": "label", "type": "nominal"}}},
{"data": {"name": "cursor"}, "mark": {"type": "text", "align": "left", "baseline": "alphabetic", "dx": 3, "font": "DejaVu Sans", "fontWeight": "bold", "fontSize": 22, "color": "#22e6ee"}, "encoding": {"x": {"field": "t", "type": "quantitative", "scale": {"domain": [-1.885, 9.869], "nice": false, "zero": false}, "axis": null}, "y": {"datum": 0.44, "type": "quantitative"}, "text": {"field": "t", "type": "quantitative", "format": ".3f"}}},
{"data": {"name": "cursor"}, "mark": {"type": "text", "align": "right", "baseline": "alphabetic", "dx": -1, "font": "Liberation Sans", "fontSize": 26, "color": "#22e6ee", "text": "T"}, "encoding": {"x": {"field": "t", "type": "quantitative", "scale": {"domain": [-1.885, 9.869], "nice": false, "zero": false}, "axis": null}, "y": {"datum": 0.18, "type": "quantitative"}}}
]
}
]
}
